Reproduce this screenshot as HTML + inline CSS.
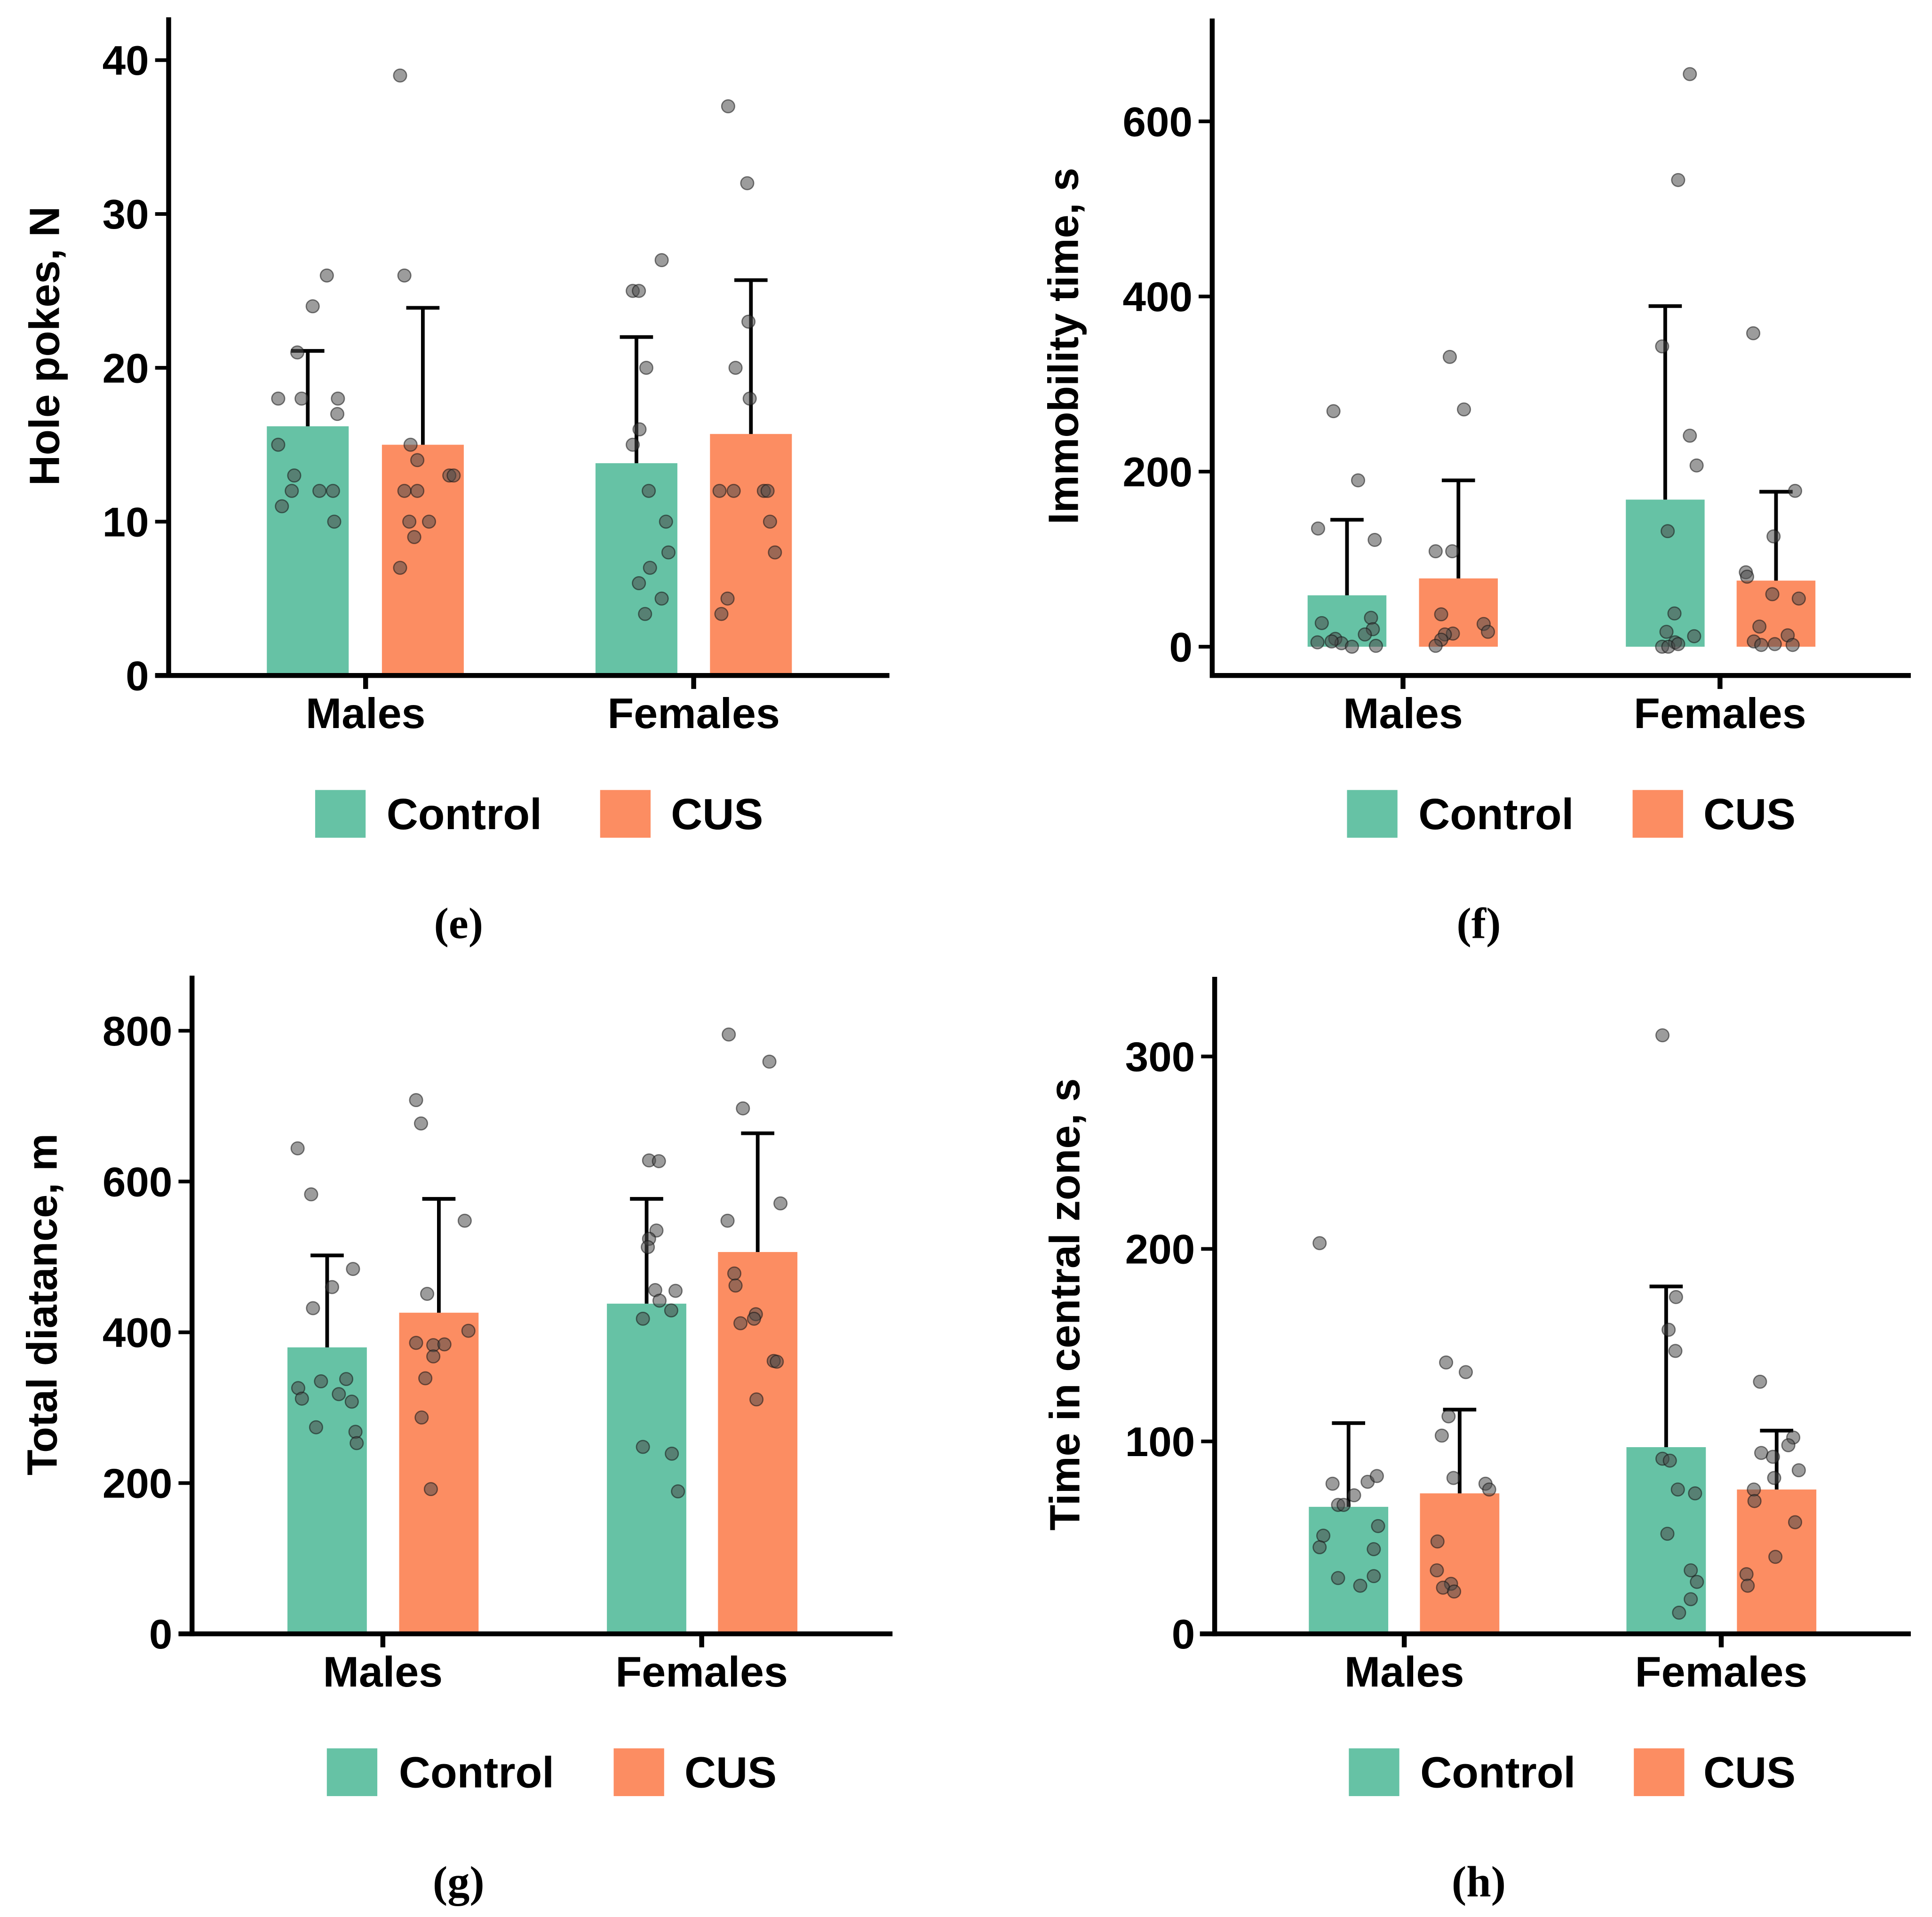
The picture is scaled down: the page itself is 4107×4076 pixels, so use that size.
<!DOCTYPE html>
<html><head><meta charset="utf-8"><style>
html,body{margin:0;padding:0;background:#fff}
svg{display:block}
text{font-family:"Liberation Sans",Arial,sans-serif;font-weight:bold;fill:#000}
.cap{font-family:"Liberation Serif",serif}
</style></head><body>
<svg id="fig" xmlns="http://www.w3.org/2000/svg" width="4107" height="4076" viewBox="0 0 3120 3096"></svg>
<script>
const categories = ["Males", "Females"];
const groups = ["Control", "CUS"];
// Panel e: Hole pokes
const eMeans = [[16.2, 15.0], [13.8, 15.7]];
const eErr = [[21.1, 23.9], [22.0, 25.7]];
const eTicks = [0, 10, 20, 30, 40];
const ePoints = [
 [[15,11,12,13,18,18,21,24,26,12,12,10,18,17],[39,26,15,14,12,12,10,10,9,7,13,13]],
 [[25,25,27,20,16,15,12,10,8,7,6,5,4],[37,32,23,20,18,12,12,12,12,10,8,5,4]]
];
// Panel f: Immobility time
const fMeans = [[58.7, 78], [168, 75.5]];
const fErr = [[145, 190], [389, 177]];
const fTicks = [0, 200, 400, 600];
const fPoints = [
 [[269,190,135,122,27,33,20,14,5,9,4,0,1,6],[331,271,109,109,37,26,17,15,14,8,1]],
 [[654,533,343,241,207,132,38,17,12,5,0,0,3],[358,178,126,85,80,60,55,23,13,6,2,3,2]]
];
// Panel g: Total distance
const gMeans = [[380, 426], [438, 506.5]];
const gErr = [[502, 577], [577, 664]];
const gTicks = [0, 200, 400, 600, 800];
const gPoints = [
 [[644,583,460,484,432,326,312,335,338,318,308,274,268,253],[708,677,548,451,402,386,383,384,368,339,287,192]],
 [[628,627,535,524,513,456,455,442,418,429,248,239,189],[795,759,697,571,548,478,462,424,418,412,362,361,311]]
];
// Panel h: Time in central zone
const hMeans = [[66, 73], [97, 75]];
const hErr = [[109.5, 116.5], [180.5, 105.6]];
const hTicks = [0, 100, 200, 300];
const hPoints = [
 [[203,78,79,82,72,67,67,56,51,45,44,29,30,25],[141,136,113,103,81,78,75,48,33,26,24,22]],
 [[311,175,158,147,91,90,75,73,52,33,27,18,11],[131,102,98,94,92,85,81,75,69,58,40,31,25]]
];

// horizontal jitter offsets (layout only, relative to bar center)
const eJit = [
 [[-48,-42,-26,-22,-48,-10,-17,8,31,19,41,43,49,48],[-37,-30,-20,-9,-30,-9,-22,10,-14,-37,43,50]],
 [[-6,4,41,16,5,-6,20,48,52,22,4,41,14],[-37,-6,-4,-25,-2,-51,-28,21,27,31,39,-38,-48]]
];
const fJit = [
 [[-22,18,-47,45,-41,39,42,29,-48,-19,-9,8,47,-25],[-14,9,-37,-10,-28,41,48,-9,-22,-28,-37]],
 [[40,21,-5,40,51,4,15,2,47,16,-5,5,21],[-37,31,-4,-49,-47,-6,37,-27,19,-36,-24,-2,27]]
];
const gJit = [
 [[-48,-26,8,42,-23,-47,-41,-10,31,19,40,-18,46,48],[-37,-29,42,-19,48,-37,-9,9,-9,-22,-28,-13]],
 [[4,20,16,4,2,14,47,21,-6,40,-6,41,51],[-47,19,-24,37,-49,-38,-36,-3,-6,-28,26,31,-2]]
];
const hJit = [
 [[-47,-26,31,46,9,-17,-8,48,-41,-47,41,-17,41,19],[-22,10,-18,-29,-10,42,48,-36,-37,-14,-27,-9]],
 [[-6,16,4,15,-6,6,19,47,2,40,50,40,21],[-27,27,19,-25,-6,36,-4,-37,-36,30,-2,-49,-47]]
];

const NS = "http://www.w3.org/2000/svg";
const svg = document.getElementById("fig");
function mk(tag, attrs, parent) {
  const e = document.createElementNS(NS, tag);
  for (const k in attrs) e.setAttribute(k, attrs[k]);
  parent.appendChild(e);
  return e;
}
const colors = ["#66c2a5", "#fc8d62"];

const panels = [
 {id:"e", ox:0, oy:0, ax:274, top:28, xl:252, xr:1445, xAxisY:1103, zeroY:1103, topVal:40, topY:98,
  means:eMeans, err:eErr, ticks:eTicks, pts:ePoints, jit:eJit, centers:[[500,687],[1034,1220]], catX:[594,1127],
  title:"Hole pokes, N", titleX:96, leg:[512,628,975,1090], capX:745, bw:133},
 {id:"f", ox:1560, oy:0, ax:400, top:30, xl:398, xr:1535, xAxisY:1103, zeroY:1056, topVal:600, topY:198,
  means:fMeans, err:fErr, ticks:fTicks, pts:fPoints, jit:fJit, centers:[[619,800],[1136,1316]], catX:[710,1225],
  title:"Immobility time, s", titleX:182, leg:[619,735,1083,1198], capX:833, bw:128},
 {id:"g", ox:0, oy:1548, ax:312, top:28, xl:290, xr:1450, xAxisY:1103, zeroY:1103, topVal:800, topY:118,
  means:gMeans, err:gErr, ticks:gTicks, pts:gPoints, jit:gJit, centers:[[531.5,713],[1050.5,1231]], catX:[622,1140],
  title:"Total diatance, m", titleX:92, leg:[531,648,997,1112], capX:745, bw:129},
 {id:"h", ox:1560, oy:1548, ax:404, top:30, xl:380, xr:1535, xAxisY:1103, zeroY:1103, topVal:300, topY:160,
  means:hMeans, err:hErr, ticks:hTicks, pts:hPoints, jit:hJit, centers:[[621.5,802],[1137.5,1317]], catX:[712,1227],
  title:"Time in central zone, s", titleX:184, leg:[622,738,1085,1198], capX:833, bw:129}
];

panels.forEach(p => {
  const g = mk("g", {transform:`translate(${p.ox},${p.oy}) scale(0.994,0.989)`}, svg);
  
  
  const k = (p.zeroY - p.topY) / p.topVal;
  const y = v => p.zeroY - v * k;

  for (let c = 0; c < 2; c++) for (let s = 0; s < 2; s++) {
    const cx = p.centers[c][s];
    const bar = mk("rect", {x:cx - p.bw/2, y:y(p.means[c][s]), width:p.bw, height:p.zeroY - y(p.means[c][s]), fill:colors[s]}, g);
    
    
    const eb = mk("path", {d:`M${cx},${y(p.means[c][s])}V${y(p.err[c][s])}M${cx-27},${y(p.err[c][s])}H${cx+27}`, stroke:"#000", "stroke-width":6, fill:"none"}, g);
    
    
  }
  for (let c = 0; c < 2; c++) for (let s = 0; s < 2; s++) {
    const arr = p.pts[c][s];
    arr.forEach((v, i) => {
      const dx = p.jit[c][s][i] || 0;
      const pt = mk("circle", {cx:p.centers[c][s] + dx, cy:y(v), r:10.5, fill:"rgba(75,75,75,0.55)", stroke:"rgba(20,20,20,0.55)", "stroke-width":2}, g);
      
      
    });
  }
  const ya = mk("line", {x1:p.ax, y1:p.top, x2:p.ax, y2:p.xAxisY + 4, stroke:"#000", "stroke-width":8}, g);
  
  
  const xa = mk("line", {x1:p.xl, y1:p.xAxisY, x2:p.xr, y2:p.xAxisY, stroke:"#000", "stroke-width":8}, g);
  
  
  p.ticks.forEach(t => {
    mk("line", {x1:p.ax - 22, y1:y(t), x2:p.ax, y2:y(t), stroke:"#000", "stroke-width":6}, g);
    const tl = mk("text", {x:p.ax - 32, y:y(t) + 24, "text-anchor":"end", "font-size":68}, g);
    tl.textContent = t;
    
    
  });
  categories.forEach((cat, c) => {
    mk("line", {x1:p.catX[c], y1:p.xAxisY, x2:p.catX[c], y2:p.xAxisY + 22, stroke:"#000", "stroke-width":8}, g);
    const cl = mk("text", {x:p.catX[c], y:1189, "text-anchor":"middle", "font-size":70}, g);
    cl.textContent = cat;
    
    
  });
  const yt = mk("text", {x:0, y:0, "text-anchor":"middle", "font-size":69, transform:`translate(${p.titleX},565) rotate(-90)`}, g);
  yt.textContent = p.title;
  
  
  groups.forEach((gr, s) => {
    const bx = mk("rect", {x:p.leg[s*2], y:1290, width:82, height:78, fill:colors[s]}, g);
    
    
    const lt = mk("text", {x:p.leg[s*2+1], y:1354, "font-size":71}, g);
    lt.textContent = gr;
    
    
  });
  const cap = mk("text", {x:p.capX, y:1532, "text-anchor":"middle", "font-size":72, class:"cap"}, g);
  cap.textContent = "(" + p.id + ")";
  
  
});
</script>
</body></html>
